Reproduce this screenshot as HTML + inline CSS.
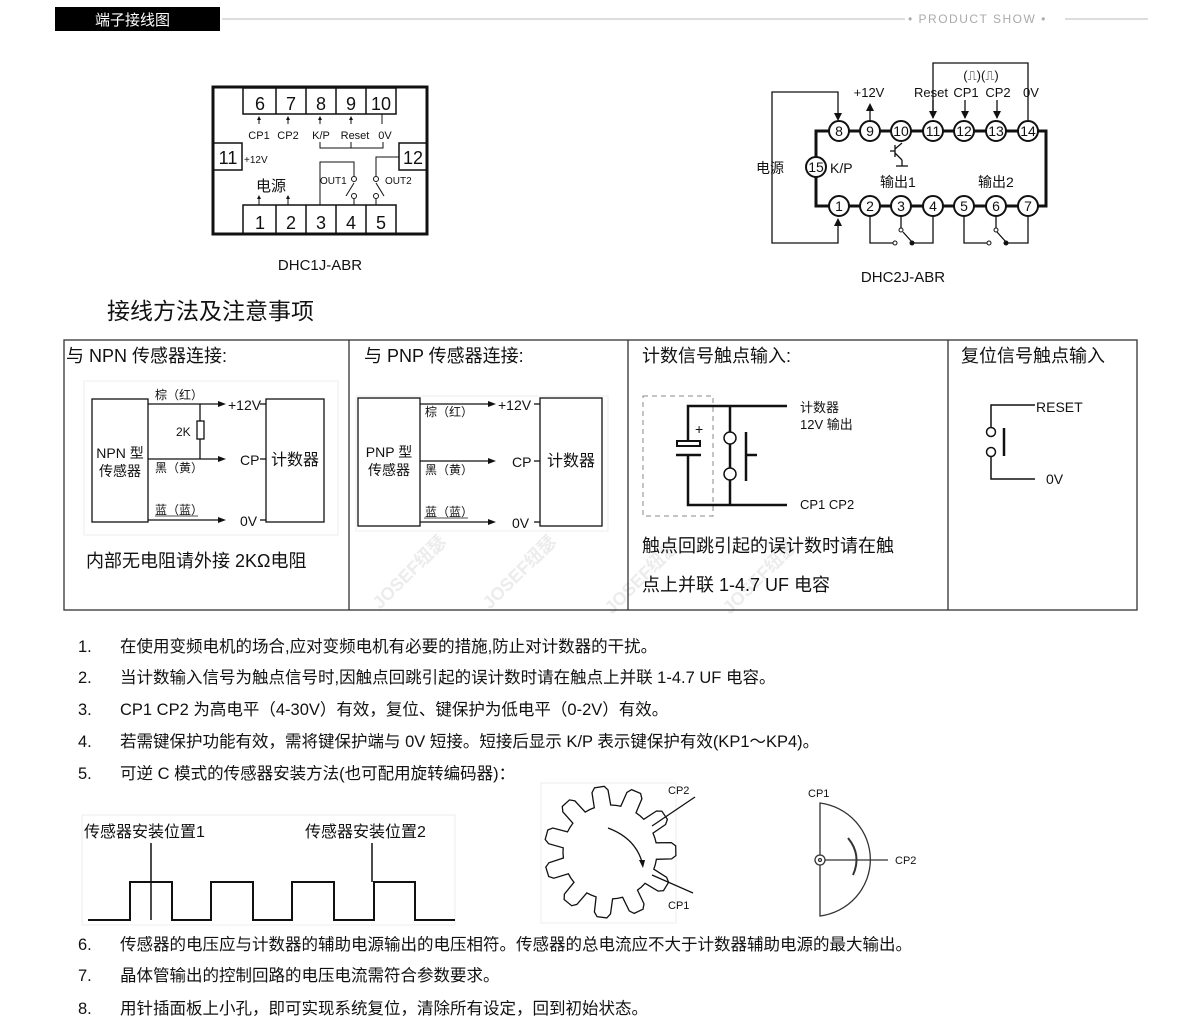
<!DOCTYPE html>
<html><head><meta charset="utf-8"><style>
html,body{margin:0;padding:0;background:#fff;}
svg{display:block;}
text{font-family:"Liberation Sans","Noto Sans CJK SC",sans-serif;fill:#111;}
text.wm{fill:#ececec;}
.s{font-family:"Liberation Serif","Noto Serif CJK SC","Noto Sans CJK SC",serif;}
.m{font-family:"Liberation Mono","Noto Sans CJK SC",monospace;}
</style></head><body>
<svg width="1200" height="1035" viewBox="0 0 1200 1035" xmlns="http://www.w3.org/2000/svg">
<!-- header -->
<rect x="55" y="7" width="165" height="24" fill="#000"/>
<text x="95" y="25" font-size="15" style="fill:#fff">端子接线图</text>
<line x1="222" y1="19" x2="905" y2="19" stroke="#bbb"/>
<text x="908" y="23" font-size="12" letter-spacing="1.5" style="fill:#aaa">• PRODUCT SHOW •</text>
<line x1="1065" y1="19" x2="1148" y2="19" stroke="#bbb"/>

<!-- DHC1J -->
<g stroke="#111" fill="none">
<rect x="213" y="87" width="214" height="147" stroke-width="3"/>
<g stroke-width="1.5">
<rect x="243" y="88" width="153" height="26"/>
<line x1="276" y1="88" x2="276" y2="114"/><line x1="306" y1="88" x2="306" y2="114"/><line x1="336" y1="88" x2="336" y2="114"/><line x1="366" y1="88" x2="366" y2="114"/>
<rect x="243" y="205" width="153" height="29"/>
<line x1="276" y1="205" x2="276" y2="234"/><line x1="306" y1="205" x2="306" y2="234"/><line x1="336" y1="205" x2="336" y2="234"/><line x1="366" y1="205" x2="366" y2="234"/>
<rect x="213" y="143" width="29" height="27"/>
<rect x="399" y="143" width="28" height="27"/>
</g>
<g stroke-width="1">
<line x1="259" y1="118" x2="259" y2="124"/><line x1="288" y1="118" x2="288" y2="124"/><line x1="320" y1="118" x2="320" y2="124"/><line x1="351" y1="118" x2="351" y2="124"/>
<line x1="382" y1="114" x2="382" y2="124"/>
<polyline points="320,142 320,148 383,148 383,142"/><line x1="351" y1="148" x2="351" y2="142"/>
<line x1="259" y1="197" x2="259" y2="205"/><line x1="288" y1="197" x2="288" y2="205"/>
<polyline points="320,205 320,162 354,162 354,176"/>
<line x1="354" y1="183" x2="346" y2="196"/>
<line x1="354" y1="199" x2="354" y2="205"/>
<polyline points="399,157 376,157 376,176"/>
<line x1="376" y1="183" x2="384" y2="196"/>
<line x1="376" y1="199" x2="376" y2="205"/>
<circle cx="354" cy="179" r="2.5"/><circle cx="354" cy="196" r="2.5"/>
<circle cx="376" cy="179" r="2.5"/><circle cx="376" cy="196" r="2.5"/>
</g>
</g>
<g fill="#111"><path d="M257,120 L261,120 L259,116Z M286,120 L290,120 L288,116Z M318,120 L322,120 L320,116Z M349,120 L353,120 L351,116Z M257,199 L261,199 L259,195Z M286,199 L290,199 L288,195Z"/></g>
<g font-size="18" text-anchor="middle">
<text x="260" y="110">6</text><text x="291" y="110">7</text><text x="321" y="110">8</text><text x="351" y="110">9</text><text x="381" y="110">10</text>
<text x="260" y="229">1</text><text x="291" y="229">2</text><text x="321" y="229">3</text><text x="351" y="229">4</text><text x="381" y="229">5</text>
<text x="228" y="164">11</text><text x="413" y="164">12</text>
</g>
<g font-size="11" class="m" text-anchor="middle">
<text x="259" y="139">CP1</text><text x="288" y="139">CP2</text><text x="321" y="139">K/P</text><text x="355" y="139">Reset</text><text x="385" y="139">0V</text>
</g>
<text x="244" y="163" font-size="10">+12V</text>
<text x="256" y="191" font-size="15">电源</text>
<text x="320" y="184" font-size="10">OUT1</text>
<text x="385" y="184" font-size="10">OUT2</text>
<text x="320" y="270" font-size="15" text-anchor="middle">DHC1J-ABR</text>

<!-- DHC2J -->
<g stroke="#111" fill="none">
<polyline points="839,131 816,131 816,206 839,206" stroke-width="3"/>
<polyline points="1028,131 1046,131 1046,206 1028,206" stroke-width="3"/>
<line x1="839" y1="131" x2="1028" y2="131" stroke-width="3"/>
<line x1="839" y1="206" x2="1028" y2="206" stroke-width="3"/>
<g stroke-width="1.3">
<polyline points="838,114 838,92 772,92 772,243 838,243 838,224"/>
<line x1="870" y1="110" x2="870" y2="120"/>
<polyline points="933,118 933,63 1028,63 1028,120"/>
<line x1="965" y1="100" x2="965" y2="118"/><line x1="997" y1="100" x2="997" y2="118"/>
<line x1="933" y1="100" x2="933" y2="112"/>
<polyline points="870,216 870,243 893,243"/><polyline points="933,216 933,243 913,243"/>
<line x1="903" y1="232" x2="912" y2="242"/>
<polyline points="964,216 964,243 987,243"/><polyline points="1028,216 1028,243 1007,243"/>
<line x1="997" y1="232" x2="1006" y2="242"/>
<line x1="901" y1="216" x2="901" y2="230"/><line x1="996" y1="216" x2="996" y2="230"/>
<line x1="895" y1="145" x2="895" y2="157"/><line x1="890" y1="151" x2="895" y2="151"/>
<line x1="895" y1="149" x2="902" y2="143"/><line x1="895" y1="153" x2="902" y2="160"/>
<line x1="902" y1="160" x2="902" y2="166"/><line x1="896" y1="166" x2="908" y2="166"/>
</g>
<g fill="#fff" stroke-width="2">
<circle cx="839" cy="131" r="10"/><circle cx="870" cy="131" r="10"/><circle cx="901" cy="131" r="10"/><circle cx="933" cy="131" r="10"/><circle cx="964" cy="131" r="10"/><circle cx="996" cy="131" r="10"/><circle cx="1028" cy="131" r="10"/>
<circle cx="839" cy="206" r="10"/><circle cx="870" cy="206" r="10"/><circle cx="901" cy="206" r="10"/><circle cx="933" cy="206" r="10"/><circle cx="964" cy="206" r="10"/><circle cx="996" cy="206" r="10"/><circle cx="1028" cy="206" r="10"/>
<circle cx="816" cy="167" r="10"/>
</g>
<g fill="#fff" stroke-width="1"><circle cx="901" cy="230" r="2"/><circle cx="895" cy="243" r="2"/><circle cx="996" cy="230" r="2"/><circle cx="989" cy="243" r="2"/></g>
</g>
<g fill="#111">
<path d="M834,113 L842,113 L838,121Z M866,111 L874,111 L870,103Z M929,111 L937,111 L933,119Z M961,111 L969,111 L965,119Z M993,111 L1001,111 L997,119Z M834,226 L842,226 L838,218Z"/>
<circle cx="912" cy="243" r="2.5"/><circle cx="1006" cy="243" r="2.5"/>
</g>
<g font-size="14" text-anchor="middle">
<text x="839" y="136">8</text><text x="870" y="136">9</text><text x="901" y="136">10</text><text x="933" y="136">11</text><text x="964" y="136">12</text><text x="996" y="136">13</text><text x="1028" y="136">14</text>
<text x="839" y="211">1</text><text x="870" y="211">2</text><text x="901" y="211">3</text><text x="933" y="211">4</text><text x="964" y="211">5</text><text x="996" y="211">6</text><text x="1028" y="211">7</text>
<text x="816" y="172">15</text>
</g>
<g font-size="13" text-anchor="middle">
<text x="869" y="97">+12V</text><text x="931" y="97">Reset</text><text x="966" y="97">CP1</text><text x="998" y="97">CP2</text><text x="1031" y="97">0V</text>
<text x="981" y="80">(⎍)(⎍)</text>
</g>
<text x="756" y="173" font-size="14">电源</text>
<text x="830" y="173" font-size="14">K/P</text>
<text x="880" y="187" font-size="14">输出1</text>
<text x="978" y="187" font-size="14">输出2</text>
<text x="903" y="282" font-size="15" text-anchor="middle">DHC2J-ABR</text>

<!-- heading -->
<text x="107" y="319" font-size="23">接线方法及注意事项</text>

<!-- watermarks -->
<g font-size="18" font-weight="bold">
<text class="wm" transform="translate(380,610) rotate(-45)">JOSEF纽瑟</text>
<text class="wm" transform="translate(490,610) rotate(-45)">JOSEF纽瑟</text>
<text class="wm" transform="translate(612,615) rotate(-45)">JOSEF纽瑟</text>
<text class="wm" transform="translate(730,615) rotate(-45)">JOSEF纽瑟</text>
</g>

<!-- table -->
<g stroke="#333" fill="none" stroke-width="1.3">
<rect x="64" y="340" width="1073" height="270"/>
<line x1="349" y1="340" x2="349" y2="610"/><line x1="628" y1="340" x2="628" y2="610"/><line x1="948" y1="340" x2="948" y2="610"/>
</g>
<g class="s" font-size="18">
<text x="66" y="362">与 NPN 传感器连接:</text>
<text x="364" y="362">与 PNP 传感器连接:</text>
<text x="642" y="362">计数信号触点输入:</text>
<text x="961" y="362">复位信号触点输入</text>
<text x="86" y="567">内部无电阻请外接 2KΩ电阻</text>
<text x="642" y="552">触点回跳引起的误计数时请在触</text>
<text x="642" y="591">点上并联 1-4.7 UF 电容</text>
</g>

<!-- NPN -->
<rect x="84" y="381" width="254" height="154" fill="none" stroke="#eee"/>
<g stroke="#111" fill="none" stroke-width="1.3">
<rect x="92" y="399" width="56" height="123"/>
<rect x="266" y="399" width="58" height="123"/>
<line x1="148" y1="404" x2="220" y2="404"/><line x1="148" y1="459" x2="220" y2="459"/><line x1="148" y1="520" x2="220" y2="520"/>
<line x1="200" y1="404" x2="200" y2="459"/><rect x="197" y="421" width="7" height="18" fill="#fff"/>
<line x1="260" y1="404" x2="266" y2="404"/><line x1="260" y1="459" x2="266" y2="459"/><line x1="260" y1="520" x2="266" y2="520"/>
<line x1="155" y1="516" x2="198" y2="516" stroke-width="0.8"/>
</g>
<g fill="#111"><path d="M218,401 L226,404 L218,407Z M218,456 L226,459 L218,462Z M218,517 L226,520 L218,523Z"/></g>
<g font-size="12"><text x="155" y="399">棕（红）</text><text x="155" y="472">黑（黄）</text><text x="155" y="514">蓝（蓝）</text>
<text x="176" y="436">2K</text></g>
<g font-size="14"><text x="228" y="410">+12V</text><text x="240" y="465">CP</text><text x="240" y="526">0V</text>
<text x="120" y="458" text-anchor="middle">NPN 型</text><text x="120" y="476" text-anchor="middle">传感器</text>
<text x="295" y="465" text-anchor="middle" font-size="16">计数器</text></g>

<!-- PNP -->
<rect x="356" y="396" width="252" height="135" fill="none" stroke="#eee"/>
<g stroke="#111" fill="none" stroke-width="1.3">
<rect x="358" y="398" width="62" height="128"/>
<rect x="540" y="398" width="62" height="128"/>
<line x1="420" y1="404" x2="490" y2="404"/><line x1="420" y1="461" x2="490" y2="461"/><line x1="420" y1="522" x2="490" y2="522"/>
<line x1="534" y1="404" x2="540" y2="404"/><line x1="534" y1="461" x2="540" y2="461"/><line x1="534" y1="522" x2="540" y2="522"/>
<line x1="424" y1="518" x2="468" y2="518" stroke-width="0.8"/>
</g>
<g fill="#111"><path d="M488,401 L496,404 L488,407Z M488,458 L496,461 L488,464Z M488,519 L496,522 L488,525Z"/></g>
<g font-size="12"><text x="425" y="416">棕（红）</text><text x="425" y="474">黑（黄）</text><text x="425" y="516">蓝（蓝）</text></g>
<g font-size="14"><text x="498" y="410">+12V</text><text x="512" y="467">CP</text><text x="512" y="528">0V</text>
<text x="389" y="457" text-anchor="middle">PNP 型</text><text x="389" y="475" text-anchor="middle">传感器</text>
<text x="571" y="466" text-anchor="middle" font-size="16">计数器</text></g>

<!-- contact input -->
<g stroke="#111" fill="none">
<rect x="643" y="396" width="70" height="120" stroke="#888" stroke-dasharray="5,4" stroke-width="1"/>
<g stroke-width="2.5">
<polyline points="787,406 688,406 688,440"/><polyline points="688,455 688,505 787,505"/>
<rect x="677" y="441" width="23" height="5" stroke-width="2"/>
<line x1="676" y1="455" x2="701" y2="455"/>
<line x1="730" y1="406" x2="730" y2="432"/><line x1="730" y1="444" x2="730" y2="468"/><line x1="730" y1="480" x2="730" y2="505"/>
<line x1="746" y1="432" x2="746" y2="481"/><line x1="746" y1="455" x2="757" y2="455"/>
</g>
<circle cx="730" cy="438" r="6" stroke-width="1.5"/><circle cx="730" cy="474" r="6" stroke-width="1.5"/>
</g>
<text x="695" y="434" font-size="14">+</text>
<g font-size="13"><text x="800" y="412">计数器</text><text x="800" y="429">12V 输出</text><text x="800" y="509">CP1 CP2</text></g>

<!-- reset -->
<g stroke="#111" fill="none" stroke-width="1.5">
<polyline points="1035,405 991,405 991,427"/><polyline points="991,457 991,479 1035,479"/>
<circle cx="991" cy="432" r="4.5"/><circle cx="991" cy="452" r="4.5"/>
<line x1="1004" y1="428" x2="1004" y2="456" stroke-width="2.5"/>
</g>
<g font-size="14"><text x="1036" y="412">RESET</text><text x="1046" y="484">0V</text></g>

<!-- list -->
<g class="s" font-size="16.5">
<text x="78" y="652">1.</text><text x="120" y="652">在使用变频电机的场合,应对变频电机有必要的措施,防止对计数器的干扰。</text>
<text x="78" y="683">2.</text><text x="120" y="683">当计数输入信号为触点信号时,因触点回跳引起的误计数时请在触点上并联 1-4.7 UF 电容。</text>
<text x="78" y="715">3.</text><text x="120" y="715">CP1 CP2 为高电平（4-30V）有效，复位、键保护为低电平（0-2V）有效。</text>
<text x="78" y="747">4.</text><text x="120" y="747">若需键保护功能有效，需将键保护端与 0V 短接。短接后显示 K/P 表示键保护有效(KP1～KP4)。</text>
<text x="78" y="779">5.</text><text x="120" y="779">可逆 C 模式的传感器安装方法(也可配用旋转编码器)：</text>
<text x="78" y="950">6.</text><text x="120" y="950">传感器的电压应与计数器的辅助电源输出的电压相符。传感器的总电流应不大于计数器辅助电源的最大输出。</text>
<text x="78" y="981">7.</text><text x="120" y="981">晶体管输出的控制回路的电压电流需符合参数要求。</text>
<text x="78" y="1014">8.</text><text x="120" y="1014">用针插面板上小孔，即可实现系统复位，清除所有设定，回到初始状态。</text>
</g>

<!-- waveform -->
<rect x="82" y="815" width="373" height="110" fill="none" stroke="#eee"/>
<text x="84" y="837" font-size="16">传感器安装位置1</text>
<text x="305" y="837" font-size="16">传感器安装位置2</text>
<g stroke="#111" fill="none" stroke-width="2">
<polyline points="88,920 130,920 130,882 172,882 172,920 211,920 211,882 253,882 253,920 292,920 292,882 334,882 334,920 374,920 374,882 415,882 415,920 455,920"/>
<line x1="151" y1="843" x2="151" y2="920" stroke-width="1.5"/>
<line x1="372" y1="843" x2="372" y2="882" stroke-width="1.5"/>
</g>

<!-- gear -->
<rect x="541" y="783" width="135" height="140" fill="none" stroke="#eee"/>
<path id="gear" fill="none" stroke="#111" stroke-width="1.3" d=""/>
<g stroke="#111" fill="none" stroke-width="1.3">
<line x1="652" y1="826" x2="695" y2="797"/><line x1="652" y1="875" x2="693" y2="893"/>
<path d="M608,828 Q635,838 642,862"/>
</g>
<path d="M639,860 L645,860 L643,868Z" fill="#111"/>
<text x="668" y="794" font-size="11">CP2</text><text x="668" y="909" font-size="11">CP1</text>

<!-- half disc -->
<g stroke="#333" fill="none" stroke-width="1.3">
<path d="M820,803 A58,57 0 0 1 820,916 Z"/>
<line x1="820" y1="860" x2="888" y2="860"/>
<circle cx="820" cy="860" r="5" fill="#fff"/><circle cx="820" cy="860" r="1.5"/>
<path d="M848,838 Q862,855 853,875" stroke-width="2"/>
</g>
<text x="808" y="797" font-size="11">CP1</text><text x="895" y="864" font-size="11">CP2</text>
</svg>
<script>
(function(){
var cx=610,cy=852,R=66,r=47,n=11,d="";
for(var i=0;i<n;i++){
 var a0=i*2*Math.PI/n-0.3, w=2*Math.PI/n;
 var pts=[[r,a0],[r,a0+w*0.18],[R-4,a0+w*0.26],[R,a0+w*0.36],[R,a0+w*0.62],[R-4,a0+w*0.72],[r,a0+w*0.8]];
 pts.forEach(function(p,j){var x=cx+p[0]*Math.cos(p[1]),y=cy+p[0]*Math.sin(p[1]);d+=(i==0&&j==0?"M":"L")+x.toFixed(1)+","+y.toFixed(1)+" ";});
}
d+="Z";
document.getElementById("gear").setAttribute("d",d);
})();
</script>
</body></html>
